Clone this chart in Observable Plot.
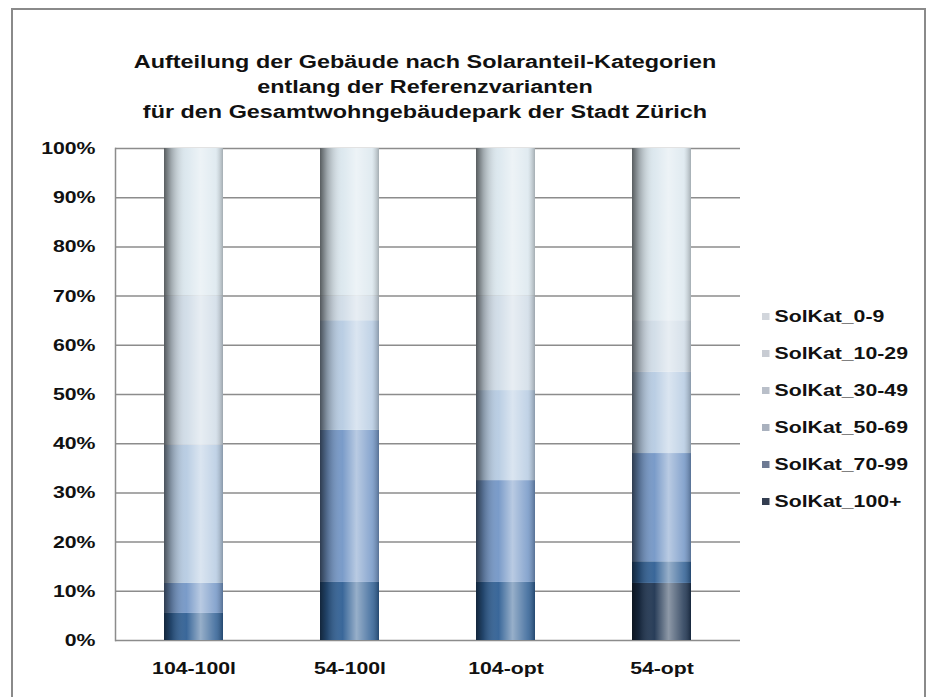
<!DOCTYPE html>
<html><head><meta charset="utf-8">
<script src="https://cdn.jsdelivr.net/npm/d3@7"></script>
<script src="https://cdn.jsdelivr.net/npm/@observablehq/plot@0.6"></script>
<style>
body{margin:0;background:#fff;font-family:"Liberation Sans",Arial,sans-serif;}
#wrap{position:relative;width:930px;height:697px;overflow:hidden;background:#fff;}
#frame{position:absolute;left:11px;top:8px;width:915px;height:720px;border:2px solid #8a8a8a;border-bottom:none;box-sizing:border-box;}
#title{position:absolute;left:0;width:850px;top:50px;text-align:center;font-weight:bold;font-size:18px;line-height:25px;color:#111;transform:scaleX(1.3);transform-origin:425px 0;}
#chart{position:absolute;left:0;top:0;}
#legend{position:absolute;left:762px;top:298px;font-weight:bold;font-size:17px;color:#111;transform:scaleX(1.25);transform-origin:0 0;}
.row{height:37px;display:flex;align-items:center;}
.sw{width:6px;height:7px;margin-right:4px;}
</style></head>
<body>
<div id="wrap">
  <div id="frame"></div>
  <div id="chart"></div>
  <div id="title">Aufteilung der Gebäude nach Solaranteil-Kategorien<br>entlang der Referenzvarianten<br>für den Gesamtwohngebäudepark der Stadt Zürich</div>
  <div id="legend"></div>
</div>
<script>
// Categories (x axis)
const categories = ["104-100l", "54-100l", "104-opt", "54-opt"];
// Series, bottom of stack first
const series = ["SolKat_100+", "SolKat_70-99", "SolKat_50-69", "SolKat_30-49", "SolKat_10-29", "SolKat_0-9"];
// Percentages per series, one value per category
const v100plus = [0, 0, 0, 11.6];
const v70_99  = [5.5, 11.8, 11.8, 4.4];
const v50_69  = [6.1, 30.9, 20.7, 22.0];
const v30_49  = [28.1, 22.3, 18.3, 16.5];
const v10_29  = [30.3, 5.0, 19.2, 10.5];
const v0_9    = [30.0, 30.0, 30.0, 35.0];
const seriesValues = [v100plus, v70_99, v50_69, v30_49, v10_29, v0_9];
const colors = ["#1d3350", "#2f5f94", "#7396c6", "#b6cbe2", "#d0dce7", "#dbe7ee"];
const yTicks = [0, 10, 20, 30, 40, 50, 60, 70, 80, 90, 100];

const data = [];
series.forEach((s, i) => categories.forEach((c, j) => data.push({cat: c, series: s, value: seriesValues[i][j]})));
const totals = categories.map(c => ({cat: c, total: 100}));

const chart = Plot.plot({
  width: 930, height: 697,
  marginTop: 148, marginBottom: 57, marginLeft: 115, marginRight: 190,
  style: {fontFamily: '"Liberation Sans", Arial, sans-serif', fontSize: "17px", fontWeight: "bold", color: "#111", background: "transparent"},
  x: {domain: categories, paddingInner: 0.62, paddingOuter: 0.31, label: null, tickSize: 0, tickPadding: 21},
  y: {domain: [0, 100], ticks: yTicks, tickFormat: d => d + "%", label: null, tickSize: 0, tickPadding: 20},
  color: {domain: series, range: colors},
  marks: [
    Plot.gridY(yTicks, {stroke: "#8c8c8c", strokeOpacity: 1, strokeWidth: 1.5}),
    Plot.frame({anchor: "left", stroke: "#8c8c8c", strokeWidth: 1.5}),
    Plot.barY(data, {x: "cat", y: "value", fill: "series"}),
    Plot.barY(totals, {x: "cat", y: "total", fill: "url(#cyl)"})
  ]
});
chart.insertAdjacentHTML("afterbegin", `<defs><linearGradient id="cyl" x1="0" x2="1" y1="0" y2="0">
<stop offset="0" stop-color="#000" stop-opacity="0.6"/>
<stop offset="0.12" stop-color="#000" stop-opacity="0.28"/>
<stop offset="0.38" stop-color="#fff" stop-opacity="0.05"/>
<stop offset="0.62" stop-color="#fff" stop-opacity="0.5"/>
<stop offset="0.88" stop-color="#fff" stop-opacity="0.15"/>
<stop offset="1" stop-color="#000" stop-opacity="0.25"/>
</linearGradient></defs>`);
// widen axis label glyphs to match the reference's stretched text
chart.querySelectorAll('g[aria-label="x-axis tick label"] text, g[aria-label="y-axis tick label"] text').forEach(t => {
  const tr = t.getAttribute("transform") || "";
  t.setAttribute("transform", tr + " scale(1.25,1)");
});
document.getElementById("chart").appendChild(chart);

const legend = document.getElementById("legend");
const legendColors = ["#d2d6dc", "#c8ccd3", "#b9bfc9", "#a9b1be", "#6d7a93", "#333d50"];
series.slice().reverse().forEach((s, k) => {
  const row = document.createElement("div");
  row.className = "row";
  const sw = document.createElement("span");
  sw.className = "sw";
  sw.style.background = legendColors[k];
  row.appendChild(sw);
  row.appendChild(document.createTextNode(s));
  legend.appendChild(row);
});
</script>
</body></html>
